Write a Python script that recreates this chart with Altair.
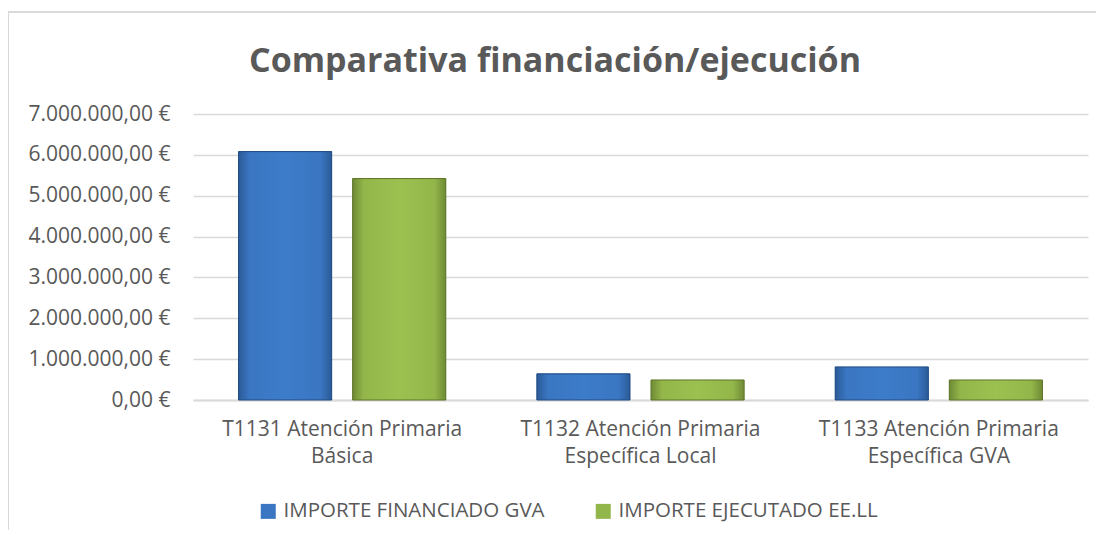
import altair as alt
import pandas as pd

categorias = [
    "T1131 Atención Primaria Básica",
    "T1132 Atención Primaria Específica Local",
    "T1133 Atención Primaria Específica GVA",
]
series = ["IMPORTE FINANCIADO GVA", "IMPORTE EJECUTADO EE.LL"]
financiado = [6080000, 640000, 810000]
ejecutado = [5420000, 490000, 490000]
y_ticks = [0, 1000000, 2000000, 3000000, 4000000, 5000000, 6000000, 7000000]
titulo = "Comparativa financiación/ejecución"

rows = []
for c, f, e in zip(categorias, financiado, ejecutado):
    rows.append({"categoria": c, "serie": series[0], "importe": f})
    rows.append({"categoria": c, "serie": series[1], "importe": e})
df = pd.DataFrame(rows)

FONT = "Open Sans"
GRAY = "#595959"
GRID = "#d9d9d9"


def grad(dark, mid, light):
    return {
        "gradient": "linear", "x1": 0, "x2": 1, "y1": 0, "y2": 0,
        "stops": [
            {"offset": 0, "color": dark},
            {"offset": 0.12, "color": mid},
            {"offset": 0.5, "color": light},
            {"offset": 0.88, "color": mid},
            {"offset": 1, "color": dark},
        ],
    }


blue_grad = grad("#2b5b98", "#3a76c2", "#3d7cc9")
green_grad = grad("#6f8a35", "#93b64a", "#9cc150")

x_enc = alt.X(
    "categoria:N", sort=categorias,
    scale=alt.Scale(paddingInner=0, paddingOuter=0),
    axis=alt.Axis(
        title=None, labelAngle=0, ticks=False, domain=True, domainColor=GRID,
        domainWidth=2, labelFont=FONT, labelFontSize=21, labelColor=GRAY,
        labelPadding=18, labelLineHeight=27, labelBaseline="top", labelLimit=0,
        labelExpr="[substring(datum.label, 0, indexof(datum.label, 'Primaria') + 8), "
                  "substring(datum.label, indexof(datum.label, 'Primaria') + 9)]",
    ),
)
xo_enc = alt.XOffset("serie:N", sort=series,
                     scale=alt.Scale(paddingInner=0.184, paddingOuter=0.399))
y_enc = alt.Y(
    "importe:Q", scale=alt.Scale(domain=[0, 7000000], nice=False),
    axis=alt.Axis(
        title=None, values=y_ticks, format="$,.2f", domain=False, ticks=False,
        grid=True, gridColor=GRID, gridWidth=1.5, labelFont=FONT,
        labelFontSize=21, labelColor=GRAY, labelPadding=23, labelLimit=0,
    ),
)

base = alt.Chart(df)

bars = base.mark_bar().encode(
    x=x_enc, xOffset=xo_enc, y=y_enc,
    color=alt.Color(
        "serie:N", sort=series,
        scale=alt.Scale(domain=series, range=["#3a76c2", "#93b64a"]),
        legend=alt.Legend(
            title=None, orient="none", direction="horizontal",
            legendX=65, legendY=387, symbolType="square", symbolSize=225,
            symbolStrokeWidth=0, labelFont=FONT, labelFontSize=20.5,
            labelColor=GRAY, columnPadding=48, labelOffset=5, labelLimit=0,
        ),
    ),
)

bars_grad = base.mark_bar(strokeWidth=1).encode(
    x=x_enc, xOffset=xo_enc, y=y_enc,
    fill=alt.condition(alt.datum.serie == series[0],
                       alt.value(blue_grad), alt.value(green_grad)),
    stroke=alt.condition(alt.datum.serie == series[0],
                         alt.value("#1f4a80"), alt.value("#5c7428")),
)

frame = alt.Chart(alt.Data(values=[{"a": 1}])).mark_rect(
    fill=None, stroke=GRID, strokeWidth=2
).encode(
    x=alt.value(-185), x2=alt.value(940),
    y=alt.value(-102), y2=alt.value(460),
)

title = alt.Chart(alt.Data(values=[{"t": titulo}])).mark_text(
    font=FONT, fontSize=34, fontWeight="bold", color=GRAY,
    align="center", baseline="middle",
).encode(text="t:N", x=alt.value(362), y=alt.value(-52))

chart = alt.layer(frame, title, bars, bars_grad).properties(
    width=895, height=286,
    autosize=alt.AutoSizeParams(type="none"),
    padding={"left": 185, "top": 106, "right": 8, "bottom": 130},
).configure(
    locale={"number": {"decimal": ",", "thousands": ".", "grouping": [3],
                       "currency": ["", " €"]}},
).configure_view(stroke=None)

chart.save("out.html", embed_options={"renderer": "svg", "actions": False})
